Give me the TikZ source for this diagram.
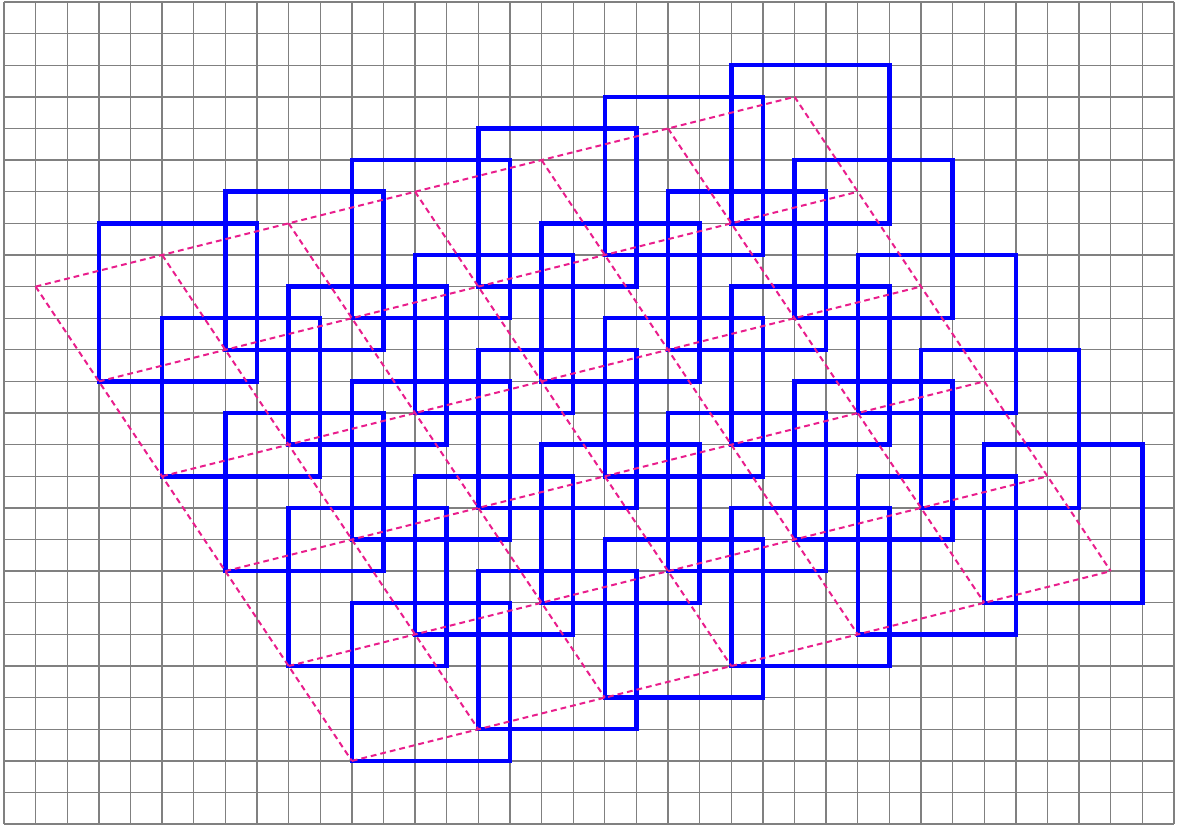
\documentclass[tikz,border=0pt]{standalone}
\usepackage{tikz}
\usetikzlibrary{calc}
\usepackage{xcolor}
\definecolor{LatticePink}{HTML}{E91E8C}
\definecolor{TileBlue}{HTML}{0000FF}

\begin{document}
\begin{tikzpicture}[x=0.5cm,y=0.5cm,
    tile/.style={line width=2pt,color=TileBlue},
    lattice/.style={line width=0.9pt,color=LatticePink,dash pattern=on 2.6pt off 1.8pt}]
    \useasboundingbox (-0.127,-0.032) rectangle (37.285,26.063);

    % background grid
    \draw[gray,line width=0.6pt,step=0.5cm] (0,0) grid (37,26);

    % lattice origin and steps
    \coordinate (O) at (1,17);
    \coordinate (A) at (4,1);
    \coordinate (B) at (2,-3);

    % squares, one per lattice cell
    \foreach \m in {0,...,5}{
        \foreach \n in {1,...,5}{
            \draw[tile] ($(O)+\m*(A)+\n*(B)$) rectangle ++(5,5);
        }
    }

    % lattice lines
    \foreach \m in {0,...,6}
        \draw[lattice] ($(O)+\m*(A)$) -- ++($5*(B)$);
    \foreach \n in {0,...,5}
        \draw[lattice] ($(O)+\n*(B)$) -- ++($6*(A)$);
\end{tikzpicture}
\end{document}
